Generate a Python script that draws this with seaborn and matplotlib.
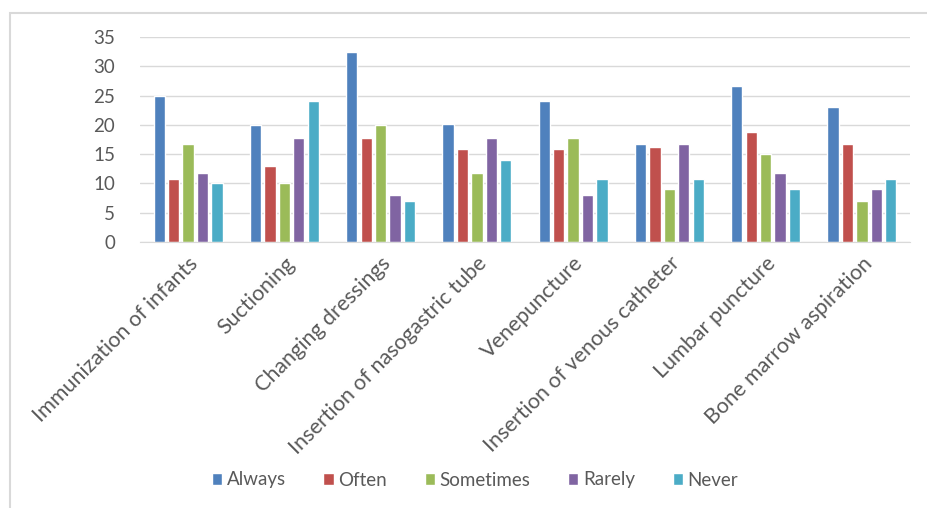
import pandas as pd
import seaborn as sns
import matplotlib.pyplot as plt
from matplotlib.patches import Rectangle

# Dữ liệu
procedures = [
    "Immunization of infants",
    "Suctioning",
    "Changing dressings",
    "Insertion of nasogastric tube",
    "Venepuncture",
    "Insertion of venous catheter",
    "Lumbar puncture",
    "Bone marrow aspiration",
]
frequencies = ["Always", "Often", "Sometimes", "Rarely", "Never"]

always = [25, 20, 32.5, 20.2, 24, 16.8, 26.7, 23]
often = [10.7, 13, 17.8, 15.8, 15.8, 16.2, 18.8, 16.8]
sometimes = [16.8, 10, 20, 11.7, 17.8, 9, 15, 7]
rarely = [11.7, 17.8, 8, 17.8, 8, 16.8, 11.7, 9]
never = [10, 24, 7, 14, 10.7, 10.7, 9, 10.7]

colors = ["#4F81BD", "#C0504D", "#9BBB59", "#8064A2", "#4BACC6"]

rows = []
for name, vals in zip(frequencies, [always, often, sometimes, rarely, never]):
    for proc, v in zip(procedures, vals):
        rows.append({"procedure": proc, "frequency": name, "value": v})
df = pd.DataFrame(rows)

sns.set_style("white")
plt.rcParams["font.family"] = ["Lato", "DejaVu Sans"]
text_color = "#595959"

fig = plt.figure(figsize=(9.27, 5.08), dpi=100)
ax = fig.add_axes([140 / 927, 1 - 242 / 508, 770 / 927, 205 / 508])

sns.barplot(
    data=df,
    x="procedure",
    y="value",
    hue="frequency",
    order=procedures,
    hue_order=frequencies,
    palette=colors,
    width=0.75,
    gap=0.22,
    saturation=1,
    ax=ax,
)

ax.set_ylim(0, 35)
ax.set_yticks(range(0, 36, 5))
ax.grid(axis="y", color="#D9D9D9", linewidth=1)
ax.set_axisbelow(True)
for s in ["top", "right", "left"]:
    ax.spines[s].set_visible(False)
ax.spines["bottom"].set_color("#D9D9D9")
ax.set_xlabel("")
ax.set_ylabel("")
ax.tick_params(axis="y", labelsize=13.5, colors=text_color, length=0, pad=18)
ax.tick_params(axis="x", labelsize=15.5, colors=text_color, length=0, pad=8)
plt.setp(ax.get_xticklabels(), rotation=45, ha="right", rotation_mode="anchor")

handles, labels = ax.get_legend_handles_labels()
ax.legend_.remove()
fig.legend(
    handles,
    labels,
    loc="center",
    bbox_to_anchor=(475 / 927, 1 - 480 / 508),
    ncol=5,
    frameon=False,
    fontsize=13.5,
    labelcolor=text_color,
    handlelength=0.55,
    handleheight=0.55,
    handletextpad=0.25,
    columnspacing=2.0,
)

# Khung viền
fig.patches.append(
    Rectangle((10 / 927, -0.1), 1.2, 1.1 - 13 / 508,
              transform=fig.transFigure, fill=False,
              edgecolor="#D9D9D9", linewidth=1.5)
)

fig.savefig("out.png", dpi=100)
